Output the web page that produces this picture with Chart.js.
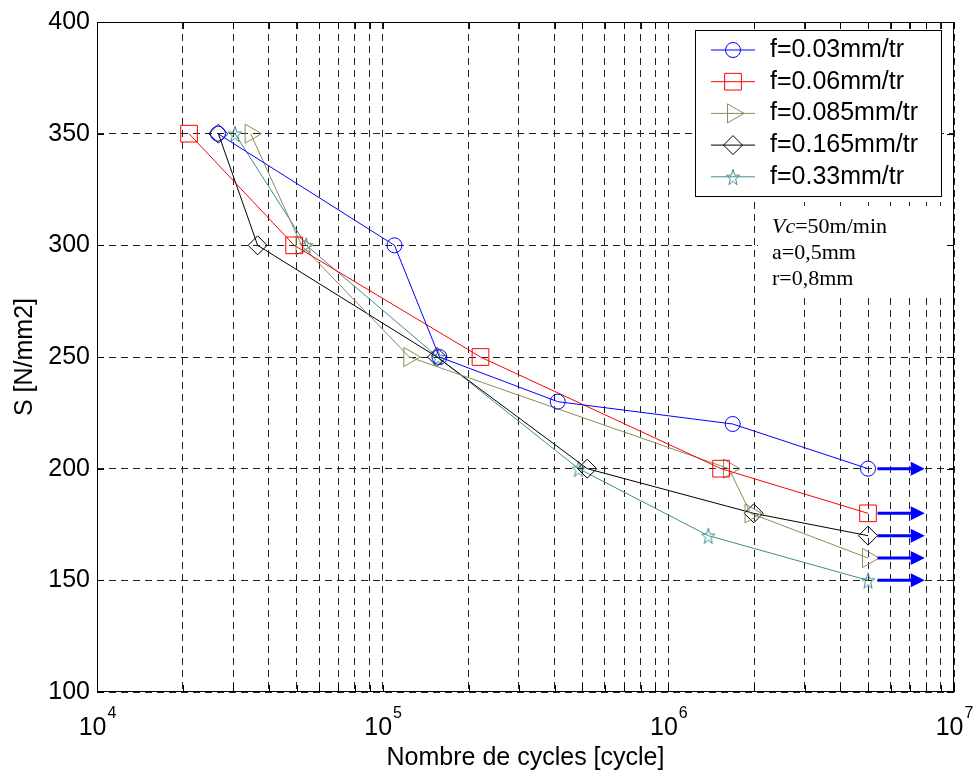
<!DOCTYPE html>
<html>
<head>
<meta charset="utf-8">
<title>Courbes S-N</title>
<script src="https://cdn.jsdelivr.net/npm/chart.js@4.4.1/dist/chart.umd.min.js"></script>
<style>
  html, body { margin: 0; padding: 0; background: #fff; }
  #wrap { width: 976px; height: 773px; }
</style>
</head>
<body>
<div id="wrap"><canvas id="snChart" width="976" height="773"></canvas></div>
<script>
// Avance par tour
const seriesNames = ["f=0.03mm/tr", "f=0.06mm/tr", "f=0.085mm/tr", "f=0.165mm/tr", "f=0.33mm/tr"];

// Nombre de cycles / contrainte pour chaque avance
const cyclesF003 = [2.65e4, 1.1e5, 1.58e5, 4.1e5, 1.68e6, 5e6];
const stressF003 = [350, 300, 250, 230, 220, 200];

const cyclesF006 = [2.1e4, 4.9e4, 2.2e5, 1.53e6, 5e6];
const stressF006 = [350, 300, 250, 200, 180];

const cyclesF0085 = [3.45e4, 5.2e4, 1.24e5, 1.63e6, 1.94e6, 5e6];
const stressF0085 = [350, 300, 250, 200, 180, 160];

const cyclesF0165 = [2.66e4, 3.65e4, 1.55e5, 5.2e5, 1.99e6, 5e6];
const stressF0165 = [350, 300, 250, 200, 180, 170];

const cyclesF033 = [3.04e4, 5.4e4, 1.56e5, 4.85e5, 1.38e6, 5e6];
const stressF033 = [350, 300, 250, 200, 170, 150];

// Eprouvettes non rompues : fleche de l'essai arrete
const runoutFrom = 5.4e6;
const runoutTo = 7.9e6;

// Axes
const decades = [1e4, 1e5, 1e6, 1e7];
const decadeExponents = ["4", "5", "6", "7"];
const minorSteps = [2, 3, 4, 5, 6, 7, 8, 9];
const stressTicks = [100, 150, 200, 250, 300, 350, 400];

// Conditions de coupe
const conditions = ["=50m/min", "a=0,5mm", "r=0,8mm"];

const FONT = "'Liberation Sans', Arial, Helvetica, sans-serif";
const SERIF = "'Liberation Serif', 'Times New Roman', serif";

function makeStar(color, outer, inner, squeeze) {
  const size = 22;
  const c = document.createElement("canvas");
  c.width = size;
  c.height = size;
  const g = c.getContext("2d");
  g.strokeStyle = color;
  g.lineWidth = 1;
  g.beginPath();
  for (let i = 0; i < 10; i++) {
    const r = i % 2 === 0 ? outer : inner;
    const a = -Math.PI / 2 + (i * Math.PI) / 5;
    const px = size / 2 + r * Math.cos(a) * squeeze;
    const py = size / 2 + 1 + r * Math.sin(a);
    if (i === 0) g.moveTo(px, py);
    else g.lineTo(px, py);
  }
  g.closePath();
  g.stroke();
  return c;
}

const colors = ["#0000ff", "#ff0000", "#8c8c5a", "#000000", "#3f8c8c"];
const markers = [
  { pointStyle: "circle", radius: 7.5, rotation: 0 },
  { pointStyle: "rect", radius: 11.8, rotation: 0 },
  { pointStyle: "triangle", radius: 11, rotation: 90 },
  { pointStyle: "rectRot", radius: 9.5, rotation: 0 },
  { pointStyle: makeStar(colors[4], 8.5, 3.4, 0.82), radius: 8, rotation: 0 },
];

const allCycles = [cyclesF003, cyclesF006, cyclesF0085, cyclesF0165, cyclesF033];
const allStress = [stressF003, stressF006, stressF0085, stressF0165, stressF033];

const datasets = seriesNames.map(function (name, k) {
  return {
    label: name,
    data: allCycles[k].map((c, i) => ({ x: c, y: allStress[k][i] })),
    borderColor: colors[k],
    backgroundColor: "rgba(0,0,0,0)",
    borderWidth: 1,
    tension: 0,
    fill: false,
    pointStyle: markers[k].pointStyle,
    pointRadius: markers[k].radius,
    pointRotation: markers[k].rotation,
    pointBorderWidth: 1,
    pointBorderColor: colors[k],
    pointBackgroundColor: "rgba(0,0,0,0)",
  };
});

const xTickValues = [];
decades.forEach(function (d, i) {
  xTickValues.push(d);
  if (i < decades.length - 1) minorSteps.forEach((m) => xTickValues.push(m * d));
});

const decorPlugin = {
  id: "decor",
  beforeDatasetsDraw(chart) {
    const { ctx, chartArea: a, scales } = chart;
    ctx.save();
    // cadre blanc des conditions de coupe (masque la grille)
    ctx.fillStyle = "#fff";
    ctx.fillRect(758, 206, a.right - 759, 90);

    ctx.strokeStyle = "#000";
    ctx.lineWidth = 1;
    ctx.strokeRect(a.left + 0.5, a.top + 0.5, a.right - a.left - 1, a.bottom - a.top - 1);
    // petites graduations vers l'interieur
    ctx.beginPath();
    const tk = 7;
    xTickValues.forEach(function (v) {
      const px = Math.round(scales.x.getPixelForValue(v)) + 0.5;
      ctx.moveTo(px, a.bottom);
      ctx.lineTo(px, a.bottom - tk);
      ctx.moveTo(px, a.top);
      ctx.lineTo(px, a.top + tk);
    });
    stressTicks.forEach(function (v) {
      const py = Math.round(scales.y.getPixelForValue(v)) + 0.5;
      ctx.moveTo(a.left, py);
      ctx.lineTo(a.left + tk, py);
      ctx.moveTo(a.right, py);
      ctx.lineTo(a.right - tk, py);
    });
    ctx.stroke();
    ctx.restore();
  },
  afterDatasetsDraw(chart) {
    const { ctx, scales } = chart;
    const xs = scales.x;
    const ys = scales.y;
    ctx.save();

    // fleches (essais arretes sans rupture)
    allStress.forEach(function (s) {
      const y = ys.getPixelForValue(s[s.length - 1]);
      const x0 = xs.getPixelForValue(runoutFrom);
      const x1 = xs.getPixelForValue(runoutTo);
      ctx.strokeStyle = "#0000ff";
      ctx.fillStyle = "#0000ff";
      ctx.lineWidth = 3;
      ctx.beginPath();
      ctx.moveTo(x0, y);
      ctx.lineTo(x1 - 12, y);
      ctx.stroke();
      ctx.beginPath();
      ctx.moveTo(x1, y);
      ctx.lineTo(x1 - 14, y - 7);
      ctx.lineTo(x1 - 14, y + 7);
      ctx.closePath();
      ctx.fill();
    });

    // etiquettes 10^n
    ctx.fillStyle = "#000";
    ctx.textBaseline = "alphabetic";
    ctx.textAlign = "left";
    decades.forEach(function (d, i) {
      const px = xs.getPixelForValue(d);
      ctx.font = "25px " + FONT;
      const wBase = ctx.measureText("10").width;
      ctx.font = "16px " + FONT;
      const wExp = ctx.measureText(decadeExponents[i]).width;
      const start = px - (wBase + wExp) / 2;
      ctx.font = "25px " + FONT;
      ctx.fillText("10", start, 735);
      ctx.font = "16px " + FONT;
      ctx.fillText(decadeExponents[i], start + wBase + 1, 718);
    });

    // conditions de coupe
    const tx = 772;
    ctx.font = "italic 22px " + SERIF;
    ctx.fillText("Vc", tx, 233);
    const wVc = ctx.measureText("Vc").width;
    ctx.font = "22px " + SERIF;
    ctx.fillText(conditions[0], tx + wVc, 233);
    ctx.fillText(conditions[1], tx, 259);
    ctx.fillText(conditions[2], tx, 285);

    // legende
    const box = { left: 695, top: 30, right: 941, bottom: 196 };
    ctx.fillStyle = "#fff";
    ctx.fillRect(box.left, box.top, box.right - box.left, box.bottom - box.top);
    ctx.strokeStyle = "#000";
    ctx.lineWidth = 1;
    ctx.strokeRect(box.left + 0.5, box.top + 0.5, box.right - box.left, box.bottom - box.top);
    seriesNames.forEach(function (name, k) {
      const y = 50 + k * 31.7;
      ctx.strokeStyle = colors[k];
      ctx.lineWidth = 1;
      ctx.beginPath();
      ctx.moveTo(711, y);
      ctx.lineTo(755, y);
      ctx.stroke();
      ctx.fillStyle = "rgba(0,0,0,0)";
      Chart.helpers.drawPoint(ctx, {
        pointStyle: markers[k].pointStyle,
        radius: markers[k].radius,
        rotation: markers[k].rotation,
        borderWidth: 1,
      }, 733, y);
      ctx.fillStyle = "#000";
      ctx.font = "25px " + FONT;
      ctx.textBaseline = "middle";
      ctx.fillText(name, 770, y);
    });
    ctx.restore();
  },
};

const ctx = document.getElementById("snChart").getContext("2d");
const chart = new Chart(ctx, {
  type: "line",
  data: { datasets: datasets },
  options: {
    responsive: false,
    animation: false,
    devicePixelRatio: 1,
    layout: { padding: { left: 0, top: 19, right: 22, bottom: 0 } },
    plugins: {
      legend: { display: false },
      tooltip: { enabled: false },
    },
    scales: {
      x: {
        type: "logarithmic",
        min: 1e4,
        max: 1e7,
        afterBuildTicks: function (scale) {
          scale.ticks = xTickValues.map((v) => ({ value: v }));
        },
        afterFit: function (scale) {
          scale.height = 81;
        },
        ticks: { display: false },
        grid: { color: "#222", lineWidth: 1, drawTicks: false },
        border: { display: false, dash: [7, 5] },
        title: {
          display: true,
          text: "Nombre de cycles [cycle]",
          color: "#000",
          font: { family: FONT, size: 25 },
          padding: { top: 0, bottom: 0 },
        },
      },
      y: {
        type: "linear",
        min: 100,
        max: 400,
        afterBuildTicks: function (scale) {
          scale.ticks = stressTicks.map((v) => ({ value: v }));
        },
        afterFit: function (scale) {
          scale.width = 97;
        },
        ticks: {
          color: "#000",
          padding: 7,
          font: { family: FONT, size: 25 },
        },
        grid: { color: "#222", lineWidth: 1, drawTicks: false },
        border: { display: false, dash: [7, 5] },
        title: {
          display: true,
          text: "S [N/mm2]",
          color: "#000",
          font: { family: FONT, size: 25 },
          padding: { top: 10, bottom: 0 },
        },
      },
    },
  },
  plugins: [decorPlugin],
});
</script>
</body>
</html>
